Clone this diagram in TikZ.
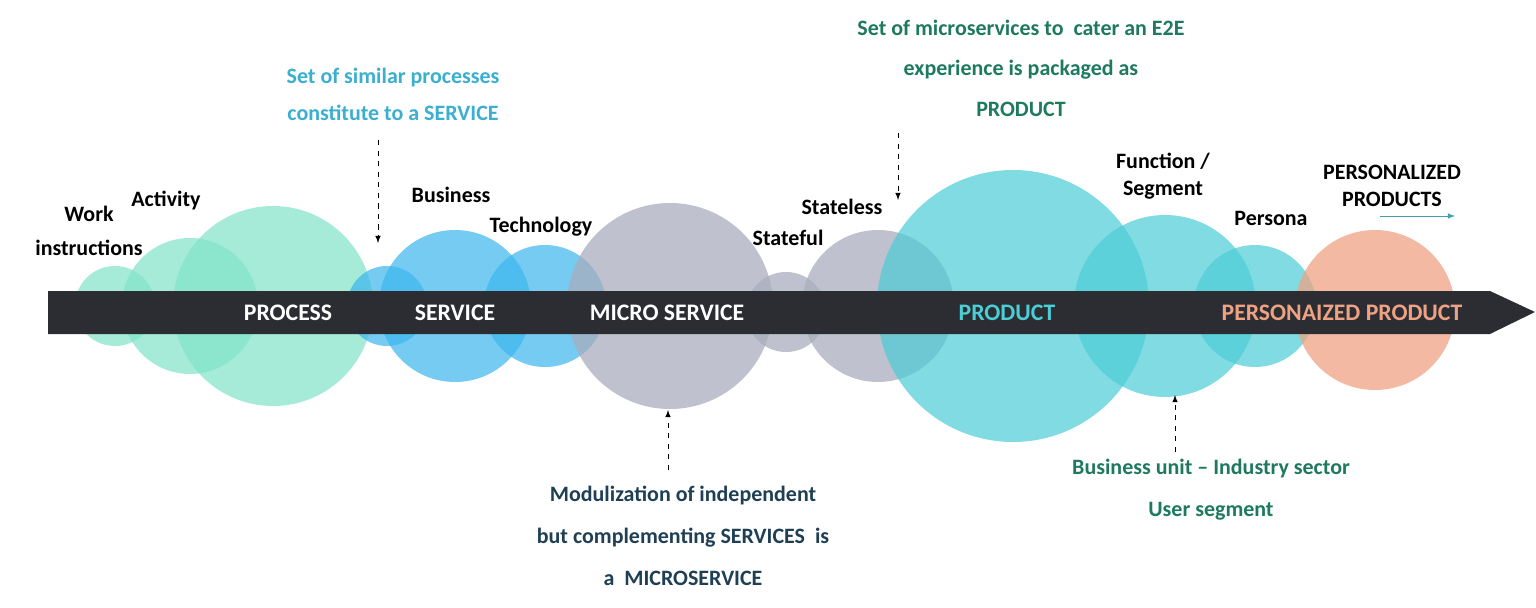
\documentclass[tikz,border=0pt]{standalone}
\usepackage{fontspec}
\setmainfont{Carlito}
\usetikzlibrary{positioning}
\definecolor{mint}{HTML}{7FE3C8}
\definecolor{skyblue}{HTML}{3BB5EC}
\definecolor{slate}{HTML}{A9ADBD}
\definecolor{teal}{HTML}{4CCCD5}
\definecolor{salmon}{HTML}{EFA283}
\definecolor{barcol}{HTML}{2B2D33}
\definecolor{lblblue}{HTML}{3AAFCF}
\definecolor{lblgreen}{HTML}{1E7A5E}
\definecolor{lblnavy}{HTML}{1F3F55}
\tikzset{
  txt/.style={font=\bfseries\fontsize{12.5}{19}\selectfont, align=center},
  bartxt/.style={font=\bfseries\fontsize{13.5}{15}\selectfont, text=white},
  note/.style={->, dashed, >=latex}
}
\begin{document}
\begin{tikzpicture}[x=0.02cm, y=-0.02cm]
    \useasboundingbox (0,0) rectangle (1536,608);
    % bubbles
    \fill[mint, opacity=0.7] (115,306) circle (40);
    \fill[mint, opacity=0.7] (190,306) circle (68);
    \fill[mint, opacity=0.7] (273,306) circle (100);
    \fill[skyblue, opacity=0.7] (387,306) circle (40);
    \fill[skyblue, opacity=0.7] (455,306) circle (76);
    \fill[skyblue, opacity=0.7] (545,306) circle (61);
    \fill[slate, opacity=0.75] (670,306) circle (103);
    \fill[slate, opacity=0.75] (786,312) circle (40);
    \fill[slate, opacity=0.75] (878,306) circle (76);
    \fill[teal, opacity=0.7] (1013,306) circle (136);
    \fill[teal, opacity=0.7] (1165,306) circle (91);
    \fill[teal, opacity=0.7] (1255,306) circle (61);
    \fill[salmon, opacity=0.75] (1375,310) circle (80);

    % bar
    \fill[barcol] (48,291) -- (1490,291) -- (1535,312) -- (1490,334) -- (48,334) -- cycle;

    % bar labels
    \node[bartxt] (process) at (288,313) {PROCESS};
    \node[bartxt] (service) at (455,313) {SERVICE};
    \node[bartxt] (micro) at (667,313) {MICRO SERVICE};
    \node[bartxt, text=teal] (product) at (1007,313) {PRODUCT};
    \node[bartxt, text=salmon] (perso) at (1342,313) {PERSONAIZED PRODUCT};

    % bubble labels
    \node[txt] (lwork) at (89,231) {Work\\instructions};
    \node[txt] (lact) at (166,201) {Activity};
    \node[txt] (lbus) at (451,195) {Business};
    \node[txt] (ltech) at (541,227) {Technology};
    \node[txt] (lfull) at (788,238) {Stateful};
    \node[txt] (lless) at (842,207) {Stateless};
    \node[txt, font=\bfseries\fontsize{12.5}{15}\selectfont] (lfunc) at (1163,176) {Function /\\Segment};
    \node[txt] (lpers) at (1271,218) {Persona};
    \node[txt, font=\bfseries\fontsize{12.5}{15}\selectfont] (lpp) at (1392,186) {PERSONALIZED\\PRODUCTS};
    \coordinate (ppa) at (1380,216);
    \coordinate (ppb) at (1455,216);
    \draw[->, >=latex, teal!80!black] (ppa) -- (ppb);

    % notes
    \node[txt, text=lblblue, font=\bfseries\fontsize{12.5}{21}\selectfont] (nserv) at (393,94) {Set of similar processes\\constitute to a SERVICE};
    \node[txt, text=lblgreen, font=\bfseries\fontsize{12.5}{23}\selectfont] (nprod) at (1021,68) {Set of microservices to~~cater an E2E\\experience is packaged as\\PRODUCT};
    \node[txt, text=lblnavy, font=\bfseries\fontsize{12.5}{24}\selectfont] (nmicro) at (683,536) {Modulization of independent\\but complementing SERVICES~~is\\a~~MICROSERVICE};
    \node[txt, text=lblgreen, font=\bfseries\fontsize{12.5}{24}\selectfont] (nunit) at (1211,490) {Business unit -- Industry sector\\User segment};

    \coordinate (sserv) at (378,140);
    \coordinate (aserv) at (378,243);
    \coordinate (sprod) at (898,133);
    \coordinate (aprod) at (898,200);
    \coordinate (smicro) at (668,470);
    \coordinate (amicro) at (668,410);
    \coordinate (sunit) at (1175,452);
    \coordinate (aunit) at (1175,395);
    \draw[note] (sserv) -- (aserv);
    \draw[note] (sprod) -- (aprod);
    \draw[note] (smicro) -- (amicro);
    \draw[note] (sunit) -- (aunit);
\end{tikzpicture}
\end{document}
